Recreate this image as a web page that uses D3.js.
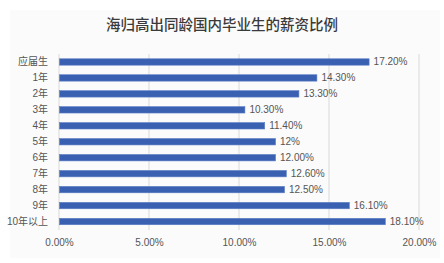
<!DOCTYPE html>
<html>
<head>
<meta charset="utf-8">
<script src="https://d3js.org/d3.v7.min.js"></script>
<style>
  body { margin: 0; background: #fff; }
  text { font-family: "Liberation Sans", "Noto Sans CJK SC", sans-serif; }
</style>
</head>
<body>
<div id="chart"></div>
<script>
// data
var categories = ["应届生", "1年", "2年", "3年", "4年", "5年", "6年", "7年", "8年", "9年", "10年以上"];
var values = [17.2, 14.3, 13.3, 10.3, 11.4, 12, 12, 12.6, 12.5, 16.1, 18.1];
var valueLabels = ["17.20%", "14.30%", "13.30%", "10.30%", "11.40%", "12%", "12.00%", "12.60%", "12.50%", "16.10%", "18.10%"];
var ticks = [0, 5, 10, 15, 20];
var title = "海归高出同龄国内毕业生的薪资比例";

var w = 444,
    h = 263;

var svg = d3.select("#chart")
    .append("svg")
    .attr("width", w)
    .attr("height", h);

// faint panel behind the chart
svg.append("rect")
    .attr("x", 10).attr("y", 10)
    .attr("width", 430).attr("height", 248)
    .attr("fill", "#fbfbfb");

svg.append("text")
    .attr("x", 222)
    .attr("y", 30)
    .attr("text-anchor", "middle")
    .attr("font-size", "14.5px")
    .attr("font-weight", "500")
    .attr("fill", "#3a3a3a")
    .style("font-family", "\"Noto Sans CJK SC\", sans-serif")
    .text(title);

var xScale = d3.scaleLinear()
    .domain([0, 20])
    .range([59, 419]);

var yScale = d3.scaleBand()
    .domain(categories)
    .range([54, 229.5])
    .paddingInner(0.6)
    .paddingOuter(0.3);

// gridlines
svg.selectAll(".grid")
    .data(ticks)
    .enter()
    .append("line")
    .attr("class", "grid")
    .attr("x1", function (d) { return xScale(d); })
    .attr("x2", function (d) { return xScale(d); })
    .attr("y1", 54)
    .attr("y2", 230)
    .attr("stroke", "#d9d9d9")
    .attr("stroke-width", 1);

// bars
svg.selectAll(".bar")
    .data(values)
    .enter()
    .append("rect")
    .attr("class", "bar")
    .attr("x", xScale(0) + 0.5)
    .attr("y", function (d, i) { return yScale(categories[i]); })
    .attr("width", function (d) { return xScale(d) - xScale(0); })
    .attr("height", yScale.bandwidth())
    .attr("fill", "#3a60b2")
    .attr("stroke", "#5a7cc4")
    .attr("stroke-width", 0.6);

// value labels
svg.selectAll(".val")
    .data(values)
    .enter()
    .append("text")
    .attr("class", "val")
    .attr("x", function (d) { return xScale(d) + 5; })
    .attr("y", function (d, i) { return yScale(categories[i]) + yScale.bandwidth() / 2; })
    .attr("dy", "0.35em")
    .attr("font-size", "10px")
    .attr("fill", "#555")
    .text(function (d, i) { return valueLabels[i]; });

// category labels
svg.selectAll(".cat")
    .data(categories)
    .enter()
    .append("text")
    .attr("class", "cat")
    .attr("x", 48)
    .attr("y", function (d) { return yScale(d) + yScale.bandwidth() / 2; })
    .attr("dy", "0.35em")
    .attr("text-anchor", "end")
    .attr("font-size", "10px")
    .attr("fill", "#555")
    .text(function (d) { return d; });

// x axis tick labels
var xAxis = d3.axisBottom(xScale)
    .tickValues(ticks)
    .tickSize(0)
    .tickPadding(0)
    .tickFormat(function (d) { return d3.format(".2f")(d) + "%"; });

var gx = svg.append("g")
    .attr("transform", "translate(0,239)")
    .call(xAxis);
gx.select(".domain").remove();
gx.selectAll("text")
    .attr("font-size", "10px")
    .attr("fill", "#555")
    .attr("font-family", "\"Liberation Sans\", \"Noto Sans CJK SC\", sans-serif");
</script>
</body>
</html>
